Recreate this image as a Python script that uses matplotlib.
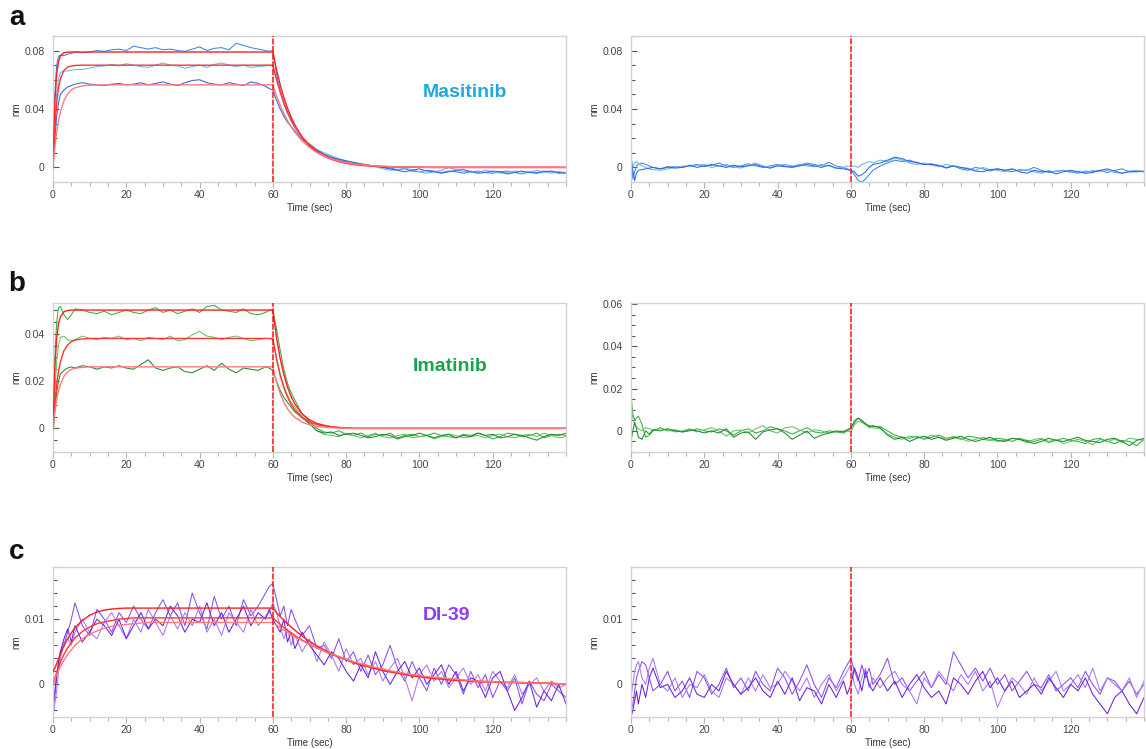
import matplotlib
matplotlib.use("Agg")
import matplotlib.pyplot as plt
import numpy as np
from matplotlib.ticker import MultipleLocator, FuncFormatter

plt.rcParams['font.family'] = ['Liberation Sans', 'DejaVu Sans']

# Sampling times (s), shared by every sensorgram
time_s = [0, 0.5, 1, 1.5, 2, 3, 4, 5, 6,
          8, 10, 12, 14, 16, 18, 20, 22, 24, 26, 28, 30, 32, 34, 36, 38, 40,
          42, 44, 46, 48, 50, 52, 54, 56, 58,
          59, 60, 61, 62, 63, 64, 65, 66,
          68, 70, 72, 74, 76, 78, 80, 82, 84, 86, 88, 90, 92, 94, 96, 98, 100,
          102, 104, 106, 108, 110, 112, 114, 116, 118, 120, 122, 124, 126, 128,
          130, 132, 134, 136, 138, 140]

# All responses below are in units of 1e-3 nm
# ---- Masitinib ----
masitinib_raw = [
    [2, 50, 70, 76, 77, 76.5, 77.5, 78, 79,
     78.5, 79, 80, 79.5, 80.5, 81, 80, 83, 82, 81, 82, 80.5, 81, 80, 79.5, 81,
     82.5, 80, 81.5, 82, 80.5, 85, 83.5, 82, 81, 80,
     79.5, 80, 64, 53, 44, 37, 32, 27.5,
     20, 14.5, 11, 8.5, 6.5, 5.5, 4, 3, 2.5, 1.5, 0.5, 0, -0.5, -1.5, -1, -2.5,
     -3, -2, -2.5, -3.5, -2.5, -3, -4, -3, -2.5, -3.5, -4, -3, -2.5, -3.5, -4.5,
     -3, -3.5, -2.5, -3, -4, -3.5],
    [1, 30, 50, 60, 65, 66, 66, 66.5, 67,
     67, 68, 69, 69.5, 70.5, 69.5, 71, 70, 69, 68.5, 70, 71.5, 70, 69.5, 68, 69,
     70, 68.5, 70.5, 71.5, 70, 69, 70, 68.5, 69, 69.5,
     70, 69, 60, 52, 43, 37, 31.5, 27,
     20, 15.5, 12, 10, 8, 6, 4.5, 3, 2, 1.5, 0.5, -1, -2, -1.5, -0.5, -1.5, -3,
     -4, -3, -2, 0, -1.5, -3, -2.5, -3.5, -2, -3, -4, -3.5, -2.5, -3, -3.5, -2,
     -3, -4, -3, -3.5],
    [0, 20, 35, 44, 50, 53, 55, 56, 57,
     58, 57, 56.5, 56, 57, 57.5, 56.5, 57, 58, 56.5, 57.5, 58.5, 57, 56, 58,
     59.5, 60, 58, 57, 56.5, 58, 57, 56, 58.5, 57.5, 55.5,
     54, 53, 46, 40, 35, 31, 28, 25,
     19, 16, 12, 9, 7, 5.5, 4.5, 3.5, 2.5, 1.5, 1, 0, -1, -2, -3, -2, -1, -2.5,
     -3, -4, -3, -2, -1.5, -3, -4, -3.5, -2.5, -3, -4.5, -3.5, -2.5, -3.5, -4,
     -3, -2.5, -3.5, -4],
]
masitinib_fit = [
    [0, 44.6, 64, 72.5, 76.2, 78.5, 78.9, 79, 79] + [79] * 26
    + [79, 79, 66.9, 56.6, 47.9, 40.6, 34.3, 29]
    + [20.8, 14.9, 10.7, 7.6, 5.5, 3.9, 2.8, 2.0, 1.4, 1.0, 0.7, 0.5, 0.4, 0.3,
       0.2, 0.1] + [0] * 21,
    [0, 27.5, 44.2, 54.4, 60.5, 66.5, 68.7, 69.5, 69.8] + [70] * 26
    + [70, 70, 60.1, 51.6, 44.3, 38.1, 32.7, 28.1]
    + [20.7, 15.3, 11.3, 8.3, 6.1, 4.5, 3.3, 2.5, 1.8, 1.3, 1.0, 0.7, 0.5, 0.4,
       0.3, 0.2, 0.1] + [0] * 20,
    [0, 13.7, 24.1, 31.9, 37.9, 45.8, 50.4, 53, 54.5]
    + [55.8, 56.3, 56.4] + [56.5] * 23
    + [56.5, 56.5, 49, 42.5, 36.9, 32, 27.7, 24.1]
    + [18.1, 13.6, 10.2, 7.7, 5.8, 4.3, 3.3, 2.5, 1.9, 1.4, 1.0, 0.8, 0.6, 0.4,
       0.3, 0.2, 0.2, 0.1] + [0] * 19,
]
masitinib_ref = [
    [11, -8, -3, 1, 2, 3, 2, 1, 0,
     -1, 0, 0.5, 0, 1, 2, 0.5, 1.5, 3, 1, 0, 1, 2.5, 1, 0, 1, 2, 1, 0.5, 1.5,
     3, 2, 1, 3.5, 1, 0,
     -1, -2, -5, -9, -10, -8, -5, -2,
     1, 3, 5, 4, 5, 3, 2, 2.5, 1, 0, 1, -1, -2, 0, -1, -2.5, -1, -2, -3, -1.5,
     -2, 0, -2, -3.5, -2.5, -2, -3, -4, -2.5, -3, -2, -3.5, -2, -1, -3, -2.5, -3],
    [8, 0, 3, 4, 3, 1, 0, -1, -1.5,
     -2, -1, 0, 1, 0.5, 1.5, 2, 0, 1, 2, 0.5, -0.5, 1.5, 3, 1, 0, 1.5, 2, 1, 2,
     1, 0.5, 2, 1, -0.5, 0,
     1, 0.5, 1, 0, 2, 3, 4, 3,
     5, 4, 6.5, 5, 3, 2, 3, 1.5, 0.5, 2, 1, 0, -0.5, -2, 0, -1.5, -2, -3, -1,
     -2.5, -1.5, -3, -4, -2.5, -3, -2, -3.5, -2.5, -4, -2, -3, -2, -3.5, -4,
     -2.5, -2, -3],
    [5, -2, -9, -4, -2, -1.5, -1, -0.5, 0,
     -1, 0.5, -0.5, 0, 1.5, 0, 1, 2, 1, 0, 1.5, 0.5, 1, 2, 0.5, -0.5, 1, 0.5, 0,
     1, 2, 1, 0, 1.5, -0.5, -1,
     -1.5, -2, -3, -6, -5, -3, 0, 2,
     3, 5, 7, 6, 4, 3.5, 2, 2, 1.5, -0.5, 1, 0, -1, -2.5, -3, -1.5, -1, -2, -1,
     -3, -4, -2, -3, -2.5, -4.5, -3, -2, -3, -4, -3.5, -2, -1, -2.5, -4, -3, -3,
     -2.5],
]

# ---- Imatinib ----
imatinib_raw = [
    [0, 30, 45, 51, 51.5, 48, 46, 48, 50.5,
     50, 49, 48.5, 49.5, 48, 49, 50, 49, 48.5, 50, 51, 49, 50, 48.5, 49.5, 50.5,
     49, 51.5, 52, 50, 49.5, 49, 50.5, 48.5, 48, 49,
     50, 50, 42, 33, 25, 19, 15, 12,
     6, 3, 0, -1.5, -2, -1, -2.5, -3, -2, -3.5, -2.5, -3, -2, -4, -3, -2.5, -3.5,
     -3, -2, -3, -3.5, -4, -2.5, -3, -2, -3, -4.5, -3.5, -2, -2.5, -3.5, -3, -2,
     -4, -3, -2.5, -3],
    [-2, 15, 28, 35, 38.5, 39, 37.5, 37, 37.5,
     39, 38, 37.5, 38.5, 38, 39, 37.5, 38, 37, 38.5, 38, 37.5, 39, 37, 37.5,
     39.5, 41, 39, 38.5, 37.5, 38.5, 39, 38, 37, 37.5, 38,
     38, 37.5, 30, 23, 18, 14, 11, 9,
     5, 2, -1, -2.5, -3, -3.5, -2, -3, -4, -3, -2, -3.5, -4, -3, -2.5, -4, -3.5,
     -3, -4.5, -3.5, -2.5, -3, -4, -3.5, -3, -4, -3, -2.5, -3.5, -4, -3, -2.5,
     -3.5, -2, -3, -4, -3.5],
    [-4, 8, 15, 20, 23, 24.5, 25.5, 26, 25.5,
     26.5, 26, 25, 26, 25.5, 26.5, 25.5, 25, 27, 29, 25.5, 24.5, 25.5, 26, 24,
     23.5, 25, 26.5, 24.5, 27.5, 25, 23.5, 25.5, 25, 24.5, 26,
     25.5, 24.5, 20, 16, 13, 11, 9, 7,
     4.5, 2, -1, -2, -1.5, -3, -2.5, -2, -3, -4, -3.5, -2.5, -3, -4.5, -3.5, -3,
     -2, -3, -4, -3, -2.5, -4, -3, -3.5, -2, -3, -2.5, -4, -3.5, -2.5, -3, -4,
     -5, -3.5, -2.5, -3, -2],
]
imatinib_fit = [
    [0, 25.5, 38, 44.2, 47.1, 49.3, 49.8, 50, 50] + [50] * 26
    + [50, 50, 38.4, 29.5, 22.7, 17.4, 13.4, 10.3]
    + [6.1, 3.6, 2.1, 1.3, 0.7, 0.4, 0.2] + [0] * 30,
    [0, 10.8, 18.5, 24, 28, 32.9, 35.3, 36.6, 37.3] + [37.8] + [38] * 25
    + [38, 38, 29.2, 22.4, 17.2, 13.2, 10.2, 7.8]
    + [4.6, 2.7, 1.6, 1.0, 0.6, 0.3, 0.2] + [0] * 30,
    [0, 7, 12.1, 15.8, 18.5, 22, 23.9, 24.9, 25.4] + [25.8] + [26] * 25
    + [26, 26, 19.5, 14.7, 11, 8.3, 6.2, 4.7]
    + [2.6, 1.5, 0.8, 0.5, 0.3, 0.1] + [0] * 31,
]
imatinib_ref = [
    [17, 8, 5, 6, 7, 3, -3, -2, 0,
     1.5, 0, 0.5, -0.5, 0, 1, 0, -0.5, 1, 0, -2, 0, 1, -1, 0, 2, 1, 0, -1.5, 0,
     1.5, -0.5, -1, 0, -0.5, -1,
     0, 1, 5, 6, 4.5, 3, 2.5, 2,
     2, 0, -2, -3, -3.5, -2.5, -4, -3, -2, -3.5, -3, -4, -2.5, -3, -4, -4.5,
     -3.5, -4, -5, -3.5, -4.5, -5, -4, -5.5, -4.5, -3.5, -4.5, -5, -6, -4, -3.5,
     -5, -6, -4.5, -5, -7, -4],
    [14, 6, 3, 2, 1, 0, 1.5, 1, 0.5,
     1, 0.5, -0.5, 0, 1, -0.5, 0.5, 1.5, 0, -2.5, 0, 0.5, -1, 1, 2.5, 0, -1, 1.5,
     2, 0.5, -1, 0.5, 0, -1, -0.5, 0,
     0, -0.5, 3, 4.5, 4, 3, 1.5, 1.5,
     1, -1.5, -3, -4, -2.5, -3, -3.5, -2, -3, -4, -2.5, -3.5, -5, -4, -3, -4, -5,
     -4.5, -3.5, -4, -5.5, -4, -3.5, -5, -4, -6, -5, -4, -5, -6.5, -4, -5, -4,
     -5.5, -3.5, -4, -4.5],
    [-5, 0, 4, 1, -3, -4, 0, -1.5, 0.5,
     0, 1, 0, -0.5, 0.5, 0, -1, 0, -1, 1, -3, -1, -0.5, -4, -0.5, 0.5, 1, -1, -4,
     -2, 0, -3.5, -2, -1, 0, -0.5,
     0.5, 1.5, 4, 6, 5, 3.5, 2, 2.5,
     1.5, -2, -4, -3, -5, -3.5, -2.5, -4, -3, -4.5, -3.5, -2.5, -4, -5, -4, -3,
     -4.5, -5, -3.5, -4, -5, -6, -5, -3.5, -4.5, -5, -4, -3, -4.5, -5, -5.5, -4,
     -3.5, -5, -7, -4.5, -3.5],
]

# ---- DI-39 ----
di39_raw = [
    [-4, -2, 1, 3, 5, 6, 8, 10, 12.5,
     9, 7.5, 11.5, 10, 8, 11, 9.5, 12, 10, 8.5, 11, 13, 10.5, 12.5, 9, 14, 11,
     8.5, 13.5, 10, 12, 9, 13, 10.5, 12, 14,
     15, 15.5, 13, 10.5, 12, 9, 11.5, 10,
     7.5, 9, 5.5, 6, 4, 7, 3.5, 5, 2, 4.5, 1.5, 3, 6, 2.5, 0.5, 3.5, 1, -1, 2.5,
     0, 3, 1.5, -1.5, 2, -0.5, 1.5, -2, 0.5, -1, 1, -3, 0.5, -1.5, -2.5, 0, -1,
     -2],
    [-5, -3, -1, 2, 4, 6.5, 7, 6, 8,
     10, 8, 7, 9.5, 11, 9, 7, 10, 8, 11.5, 9.5, 7.5, 10.5, 8.5, 11, 9, 12, 8, 10,
     7.5, 11, 9.5, 8, 11.5, 9, 10.5,
     11, 12.5, 11, 9, 7, 8.5, 6, 7.5,
     5, 7, 3.5, 6.5, 4.5, 2, 5.5, 3, 4, 1.5, 3.5, 0.5, 2.5, 4, 1, -2.5, 1.5, 3,
     0.5, 2, -0.5, 1, 2.5, 0, 1.5, -1, 2, 0.5, -0.5, 1.5, -1.5, 0, 1, -1, 0.5,
     -0.5, 0],
    [-3, -1, 1.5, 3.5, 5, 7, 8.5, 6.5, 9,
     6.5, 8, 10, 9, 7.5, 10, 7, 9, 11, 8.5, 10, 9, 12, 10.5, 8, 10, 9.5, 12.5, 9,
     11, 8, 10, 12, 9, 11, 10,
     11.5, 10, 9, 8, 10, 6.5, 8, 5.5,
     8, 6, 4.5, 3, 5, 4, 2, 0.5, 3, 1, 5, 2, 0, 2, 3.5, 1, 2.5, 0, 1.5, 3, 0, 2,
     -1, 1, 0.5, -2, 1, 2, -1, -4, -2, 0.5, -3.5, -1, -2.5, 0, -3],
]
di39_fit = [
    [2, 2.5, 3.2, 3.9, 4.6, 5.9, 7, 7.9, 8.7]
    + [9.8, 10.6, 11.1, 11.4, 11.55, 11.65] + [11.7] * 20
    + [11.7, 11.7, 11.0, 10.4, 9.8, 9.3, 8.8, 8.3]
    + [7.4, 6.6, 5.9, 5.3, 4.7, 4.2, 3.8, 3.3, 3.0, 2.7, 2.4, 2.1, 1.9, 1.7, 1.5,
       1.3, 1.2, 1.0, 0.9, 0.8, 0.7, 0.6, 0.6, 0.5, 0.4, 0.4, 0.4, 0.3, 0.3, 0.3,
       0.2, 0.2, 0.2, 0.2, 0.1, 0.1, 0.1],
    [0, 1.0, 1.8, 2.6, 3.4, 4.6, 5.6, 6.4, 7.1]
    + [8.1, 8.8, 9.3, 9.6, 9.8, 10.0, 10.1] + [10.2] * 19
    + [10.2, 10.2, 9.7, 9.2, 8.7, 8.3, 7.9, 7.5]
    + [6.8, 6.2, 5.6, 5.1, 4.6, 4.2, 3.8, 3.4, 3.1, 2.8, 2.5, 2.2, 2.0, 1.8, 1.6,
       1.4, 1.3, 1.1, 1.0, 0.9, 0.8, 0.7, 0.6, 0.6, 0.5, 0.4, 0.4, 0.4, 0.3, 0.3,
       0.3, 0.2, 0.2, 0.2, 0.2, 0.1, 0.1],
    [0, 0.8, 1.5, 2.1, 2.7, 3.7, 4.6, 5.3, 6.0]
    + [7.0, 7.7, 8.2, 8.6, 8.9, 9.1, 9.2, 9.3, 9.4] + [9.5] * 17
    + [9.5, 9.5, 9.1, 8.7, 8.3, 8.0, 7.6, 7.3]
    + [6.7, 6.1, 5.6, 5.1, 4.7, 4.3, 3.9, 3.5, 3.2, 2.9, 2.6, 2.4, 2.1, 1.9, 1.7,
       1.5, 1.4, 1.2, 1.1, 1.0, 0.9, 0.8, 0.7, 0.6, 0.5, 0.5, 0.4, 0.4, 0.3, 0.3,
       0.3, 0.2, 0.2, 0.2, 0.2, 0.1, 0.1],
]
di39_ref = [
    [-4, -3, -1, 1, 2, 3.5, 3, 1, -1,
     0, 2, -1, 0.5, -2, 2, 1, -1.5, 0, 2.5, -0.5, 1, -1, 2, 0, -1, 2.5, 1, -1.5,
     0.5, 3, 0, -2, 1, -0.5, 2,
     3, 4, 2, 0.5, 3, 1, 2.5, 0,
     1.5, 4, 0, 1, -1, 0.5, 2, -0.5, 1.5, 0, 5, 3, 1, 2.5, 0.5, 2.5, 0, 1.5, -1,
     0.5, 2, 0, -0.5, 1.5, -1, 0, 1, -0.5, 2, 0, -1.5, 1, 0.5, -1, 0.5, -1.5, 0],
    [-2, 0, 2, 3, 3.5, 1, 0, 2.5, 4,
     0, -1, 1, -2, 0, -0.5, 1.5, -1, -2, 1, 0, -1.5, 1, -1, 1.5, -0.5, 0, 2, 0.5,
     -1, 1, -2, 0, 1.5, -1, 1,
     2, 3, 0, -1.5, 1, 2.5, -0.5, 1,
     -0.5, 1, 2, 0, -1, -3, 1, -0.5, 2, 0.5, -1, 1.5, 0, 2, -1, 0.5, -3.5, -1, 1,
     0, -1.5, 1, -1, 0.5, 2, -1, 0, 1.5, -0.5, 2.5, -1, 1, 0, -1, 1, -2, 0.5],
    [-5, -4, -2.5, -1, -3, 0, -2, 1, 2.5,
     -0.5, 0, -2, -1, 1, -1.5, -2, 0, -1, 2, 0, -1.5, -0.5, 1, -1, -2, 0.5, -1.5,
     1, -2.5, -0.5, -1, -3, 0, -2, 0.5,
     -1.5, 0, 2.5, 1, -1, 2, 0, -1,
     1, -1, 0.5, -2, 0, 1.5, -0.5, -2, -1, -3, 1, 0, -1.5, 0.5, 2, -0.5, 1, -1,
     0.5, -2, -1, 0, -1.5, 1, -0.5, -2, 0, -1, 1, -1.5, -3, -4.5, -2, -1, -3,
     -4.5, -2],
]

SCALE = 1e-3  # 1e-3 nm -> nm
t = np.asarray(time_s, dtype=float)

blue_traces = ['#3f86e2', '#6db2ee', '#2f68d6']
green_traces = ['#3aab45', '#62c466', '#1f8a2e']
purple_traces = ['#8a4cf0', '#a877f5', '#6a1fe0']
fit_colors = ['#ff1f1f', '#ff3535', '#ff7a7a']


def yfmt(v, _):
    if abs(v) < 1e-12:
        return '0'
    return f'{v:g}'


def style_axes(ax, ylim, major, minor):
    ax.set_xlim(0, 140)
    ax.set_ylim(*ylim)
    ax.set_xticks(range(0, 121, 20))
    ax.xaxis.set_minor_locator(MultipleLocator(5))
    ax.yaxis.set_major_locator(MultipleLocator(major))
    ax.yaxis.set_minor_locator(MultipleLocator(minor))
    ax.yaxis.set_major_formatter(FuncFormatter(yfmt))
    for sp in ax.spines.values():
        sp.set_color('#d2d2d2')
        sp.set_linewidth(1.0)
    ax.tick_params(axis='x', which='both', direction='out', color='#b5b5b5',
                   labelsize=7.5, labelcolor='#444444', pad=2)
    ax.tick_params(axis='x', which='major', length=4, width=0.8)
    ax.tick_params(axis='x', which='minor', length=3, width=0.8)
    ax.tick_params(axis='y', which='both', direction='in', color='#555555',
                   labelsize=7.5, labelcolor='#444444', pad=6)
    ax.tick_params(axis='y', which='major', length=4, width=0.8)
    ax.tick_params(axis='y', which='minor', length=3, width=0.8)
    ax.set_xlabel('Time (sec)', fontsize=7, color='#333333', labelpad=2)
    ax.set_ylabel('nm', fontsize=7, color='#333333', labelpad=2)
    ax.axvline(60, color='#ff1010', lw=1.1, ls=(0, (4, 1)), zorder=5)


def draw_traces(ax, traces, colors):
    for vals, c in zip(traces, colors):
        ax.plot(t, np.asarray(vals) * SCALE, color=c, lw=0.75, zorder=2)


def draw_fits(ax, fits):
    for vals, c in zip(fits, fit_colors):
        ax.plot(t, np.asarray(vals) * SCALE, color=c, lw=1.0, zorder=3)


fig = plt.figure(figsize=(11.46, 7.49), dpi=100)

left_x, right_x, width = 53 / 1146, 631 / 1146, 513 / 1146
rows = [(0.757, 0.195), (0.3965, 0.199), (0.0427, 0.2003)]

panels = [
    ('a', 'Masitinib', '#1ea7e1', masitinib_raw, masitinib_fit, masitinib_ref,
     blue_traces, (-0.01, 0.09), (-0.01, 0.09), 0.04, 0.01, (0.803, 0.616)),
    ('b', 'Imatinib', '#17a44c', imatinib_raw, imatinib_fit, imatinib_ref,
     green_traces, (-0.01, 0.053), (-0.01, 0.0605), 0.02, 0.005, (0.774, 0.577)),
    ('c', 'DI-39', '#8a3ff0', di39_raw, di39_fit, di39_ref,
     purple_traces, (-0.005, 0.018), (-0.005, 0.018), 0.01, 0.002, (0.768, 0.68)),
]

letter_y = [18, 284, 552]
for (letter, name, ncol, raw, fit, ref, cols, ylim_l, ylim_r, major, minor,
     lab_xy), (bottom, height), ly in zip(panels, rows, letter_y):
    ax_l = fig.add_axes([left_x, bottom, width, height])
    style_axes(ax_l, ylim_l, major, minor)
    draw_traces(ax_l, raw, cols)
    draw_fits(ax_l, fit)
    ax_l.text(lab_xy[0], lab_xy[1], name, transform=ax_l.transAxes,
              ha='center', va='center', fontsize=14, fontweight='bold',
              color=ncol)

    ax_r = fig.add_axes([right_x, bottom, width, height])
    style_axes(ax_r, ylim_r, major, minor)
    draw_traces(ax_r, ref, cols)

    fig.text(17 / 1146, 1 - ly / 749, letter, fontsize=20, fontweight='bold',
             ha='center', va='center', color='#111111')

fig.savefig('out.png', dpi=100)
